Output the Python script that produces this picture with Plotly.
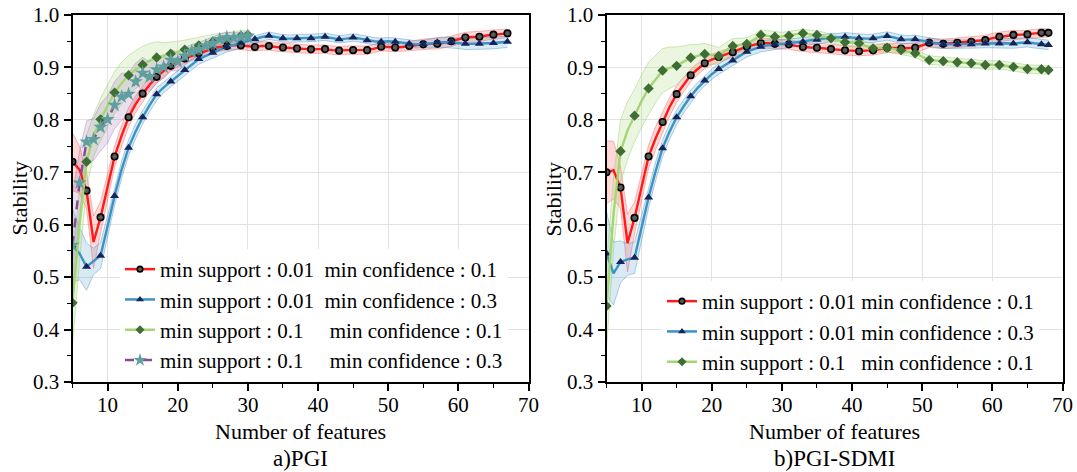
import plotly.graph_objects as go

FONT = "Liberation Serif, Times New Roman, DejaVu Serif, serif"

# ---------------- data ----------------
pgi_x_long = list(range(5, 68))
pgi_x_short = list(range(5, 31))
sdmi_x = list(range(5, 69))

pgi_red = [0.720, 0.705, 0.665, 0.567, 0.614, 0.672, 0.730, 0.770, 0.805, 0.830,
           0.850, 0.867, 0.882, 0.893, 0.903, 0.910, 0.917, 0.922, 0.927, 0.932,
           0.936, 0.939, 0.941, 0.942, 0.942, 0.940, 0.939, 0.941, 0.941, 0.939,
           0.938, 0.937, 0.936, 0.935, 0.9345, 0.935, 0.935, 0.933, 0.932, 0.933,
           0.933, 0.933, 0.933, 0.936, 0.9395, 0.939, 0.938, 0.939, 0.941, 0.943,
           0.944, 0.945, 0.945, 0.947, 0.950, 0.954, 0.957, 0.958, 0.9586, 0.961,
           0.9625, 0.964, 0.965]
pgi_red_err = [0.055, 0.045, 0.035, 0.050, 0.030, 0.025, 0.020, 0.020, 0.018, 0.016,
               0.015, 0.013, 0.012, 0.011, 0.010, 0.009, 0.009, 0.009, 0.009, 0.009,
               0.009, 0.008, 0.008, 0.008, 0.008, 0.008, 0.008, 0.008, 0.008, 0.008,
               0.008, 0.008, 0.008, 0.008, 0.008, 0.008, 0.008, 0.008, 0.008, 0.008,
               0.008, 0.008, 0.008, 0.008, 0.008, 0.008, 0.008, 0.008, 0.009, 0.009,
               0.010, 0.010, 0.010, 0.010, 0.010, 0.010, 0.010, 0.010, 0.010, 0.009,
               0.009, 0.008, 0.008]

pgi_blue = [0.560, 0.545, 0.520, 0.530, 0.541, 0.597, 0.655, 0.705, 0.747, 0.778,
            0.805, 0.828, 0.849, 0.862, 0.873, 0.884, 0.895, 0.906, 0.916, 0.922,
            0.928, 0.934, 0.9395, 0.943, 0.947, 0.950, 0.9536, 0.958, 0.9605, 0.958,
            0.9555, 0.955, 0.9555, 0.955, 0.9555, 0.957, 0.9586, 0.956, 0.9536, 0.955,
            0.957, 0.955, 0.952, 0.950, 0.949, 0.950, 0.949, 0.947, 0.945, 0.944,
            0.9446, 0.946, 0.948, 0.948, 0.948, 0.946, 0.945, 0.945, 0.945, 0.946,
            0.9466, 0.948, 0.949]
pgi_blue_err = [0.070, 0.050, 0.045, 0.025, 0.025, 0.020, 0.018, 0.016, 0.015, 0.014,
                0.013, 0.012, 0.012, 0.010, 0.010, 0.010, 0.010, 0.010, 0.010, 0.010,
                0.010, 0.010, 0.010, 0.010, 0.010, 0.007, 0.007, 0.007, 0.007, 0.007,
                0.007, 0.007, 0.007, 0.007, 0.007, 0.007, 0.007, 0.007, 0.007, 0.007,
                0.007, 0.007, 0.007, 0.007, 0.007, 0.007, 0.007, 0.007, 0.007, 0.007,
                0.007, 0.009, 0.009, 0.010, 0.010, 0.010, 0.011, 0.011, 0.011, 0.011,
                0.011, 0.011, 0.011]

pgi_green = [0.451, 0.600, 0.720, 0.770, 0.801, 0.828, 0.852, 0.870, 0.885, 0.896,
             0.905, 0.913, 0.919, 0.922, 0.926, 0.930, 0.934, 0.938, 0.942, 0.946,
             0.949, 0.952, 0.955, 0.957, 0.960, 0.962]
pgi_green_err = [0.080, 0.070, 0.050, 0.040, 0.040, 0.040, 0.040, 0.040, 0.038, 0.036,
                 0.035, 0.033, 0.030, 0.025, 0.022, 0.020, 0.018, 0.017, 0.016, 0.015,
                 0.014, 0.013, 0.012, 0.011, 0.010, 0.009]

pgi_purple = [0.561, 0.680, 0.758, 0.763, 0.786, 0.801, 0.828, 0.844, 0.849, 0.873,
              0.889, 0.882, 0.896, 0.901, 0.914, 0.911, 0.922, 0.930, 0.9345, 0.941,
              0.946, 0.9536, 0.957, 0.957, 0.958, 0.960]
pgi_purple_err = [0.100, 0.060, 0.040, 0.040, 0.045, 0.045, 0.045, 0.045, 0.040, 0.035,
                  0.030, 0.028, 0.025, 0.022, 0.020, 0.018, 0.016, 0.014, 0.013, 0.012,
                  0.011, 0.010, 0.010, 0.009, 0.009, 0.008]

sdmi_red = [0.700, 0.704, 0.671, 0.565, 0.613, 0.672, 0.730, 0.765, 0.796, 0.825,
            0.849, 0.868, 0.885, 0.897, 0.908, 0.915, 0.920, 0.925, 0.929, 0.934,
            0.9395, 0.943, 0.946, 0.946, 0.945, 0.944, 0.944, 0.941, 0.939, 0.938,
            0.9376, 0.936, 0.935, 0.934, 0.9326, 0.932, 0.931, 0.932, 0.9326, 0.935,
            0.9376, 0.937, 0.936, 0.937, 0.9376, 0.942, 0.947, 0.946, 0.945, 0.946,
            0.947, 0.948, 0.949, 0.950, 0.952, 0.956, 0.9586, 0.960, 0.962, 0.962,
            0.963, 0.965, 0.966, 0.966]
sdmi_red_err = [0.060, 0.055, 0.040, 0.055, 0.030, 0.025, 0.022, 0.022, 0.020, 0.018,
                0.016, 0.014, 0.012, 0.011, 0.010, 0.010, 0.010, 0.010, 0.010, 0.010,
                0.009, 0.009, 0.009, 0.009, 0.009, 0.009, 0.009, 0.009, 0.009, 0.009,
                0.009, 0.009, 0.009, 0.009, 0.009, 0.009, 0.009, 0.009, 0.009, 0.009,
                0.009, 0.009, 0.009, 0.009, 0.009, 0.009, 0.009, 0.009, 0.009, 0.009,
                0.009, 0.009, 0.009, 0.009, 0.009, 0.009, 0.009, 0.009, 0.009, 0.008,
                0.008, 0.008, 0.008, 0.008]

sdmi_blue = [0.545, 0.507, 0.529, 0.534, 0.537, 0.595, 0.652, 0.702, 0.746, 0.778,
             0.805, 0.826, 0.845, 0.861, 0.875, 0.887, 0.897, 0.905, 0.913, 0.922,
             0.930, 0.935, 0.9395, 0.942, 0.944, 0.945, 0.946, 0.948, 0.949, 0.951,
             0.953, 0.955, 0.957, 0.957, 0.9586, 0.957, 0.9555, 0.955, 0.9555, 0.958,
             0.960, 0.957, 0.9536, 0.953, 0.9536, 0.951, 0.948, 0.946, 0.944, 0.944,
             0.944, 0.944, 0.944, 0.945, 0.9456, 0.946, 0.9456, 0.946, 0.9456, 0.947,
             0.948, 0.946, 0.944, 0.943]
sdmi_blue_err = [0.080, 0.060, 0.040, 0.030, 0.030, 0.022, 0.020, 0.018, 0.016, 0.015,
                 0.014, 0.013, 0.012, 0.010, 0.010, 0.010, 0.010, 0.010, 0.010, 0.010,
                 0.010, 0.010, 0.010, 0.010, 0.010, 0.008, 0.008, 0.008, 0.008, 0.008,
                 0.008, 0.008, 0.008, 0.008, 0.008, 0.008, 0.008, 0.008, 0.008, 0.008,
                 0.008, 0.008, 0.008, 0.008, 0.008, 0.008, 0.008, 0.008, 0.008, 0.008,
                 0.008, 0.008, 0.008, 0.008, 0.008, 0.009, 0.009, 0.009, 0.009, 0.009,
                 0.009, 0.009, 0.009, 0.009]

sdmi_green = [0.445, 0.620, 0.740, 0.780, 0.808, 0.836, 0.860, 0.878, 0.894, 0.899,
              0.903, 0.911, 0.9185, 0.922, 0.9256, 0.924, 0.922, 0.932, 0.941, 0.943,
              0.9446, 0.953, 0.962, 0.960, 0.9586, 0.959, 0.9605, 0.963, 0.965, 0.963,
              0.962, 0.959, 0.9555, 0.952, 0.948, 0.947, 0.946, 0.941, 0.9364, 0.937,
              0.9376, 0.935, 0.933, 0.930, 0.927, 0.920, 0.914, 0.913, 0.912, 0.911,
              0.910, 0.909, 0.908, 0.906, 0.9046, 0.905, 0.9046, 0.903, 0.901, 0.899,
              0.897, 0.8965, 0.8964, 0.895]
sdmi_green_err = [0.080, 0.070, 0.060, 0.055, 0.050, 0.050, 0.050, 0.045, 0.042, 0.040,
                  0.036, 0.030, 0.025, 0.022, 0.020, 0.018, 0.016, 0.015, 0.014, 0.013,
                  0.012, 0.010, 0.010, 0.010, 0.010, 0.008, 0.008, 0.008, 0.008, 0.008,
                  0.008, 0.008, 0.008, 0.008, 0.008, 0.008, 0.008, 0.008, 0.008, 0.008,
                  0.008, 0.008, 0.008, 0.008, 0.008, 0.008, 0.008, 0.008, 0.008, 0.008,
                  0.008, 0.008, 0.008, 0.008, 0.008, 0.008, 0.008, 0.008, 0.008, 0.008,
                  0.008, 0.008, 0.008, 0.008]

legend_names_pgi = [
    "min support : 0.01\u00a0\u00a0min confidence : 0.1",
    "min support : 0.01\u00a0\u00a0min confidence : 0.3",
    "min support : 0.1\u00a0\u00a0\u00a0\u00a0\u00a0min confidence : 0.1",
    "min support : 0.1\u00a0\u00a0\u00a0\u00a0\u00a0min confidence : 0.3",
]
legend_names_sdmi = [
    "min support : 0.01 min confidence : 0.1",
    "min support : 0.01 min confidence : 0.3",
    "min support : 0.1\u00a0\u00a0\u00a0min confidence : 0.1",
]
panel_titles = ["a)PGI", "b)PGI-SDMI"]
x_title = "Number of features"
y_title = "Stability"

# ---------------- styles ----------------
STY = {
    "red": dict(line="#ff1a1a", dash="solid", fill="rgba(255,60,60,0.20)", edge="rgba(255,90,90,0.55)",
                sym="circle", mcol="#5a5a5a", msize=6.5, mline=dict(color="#000000", width=1.6)),
    "blue": dict(line="#3d92c4", dash="solid", fill="rgba(80,160,210,0.22)", edge="rgba(70,150,200,0.55)",
                 sym="triangle-up", mcol="#16245c", msize=8, mline=dict(width=0)),
    "green": dict(line="#a5d574", dash="solid", fill="rgba(165,213,116,0.22)", edge="rgba(150,205,100,0.55)",
                  sym="diamond", mcol="#3f6e35", msize=8, mline=dict(width=0)),
    "purple": dict(line="#8b4a8d", dash="dash", fill="rgba(150,100,175,0.20)", edge="rgba(150,100,175,0.45)",
                   sym="star", mcol="#5f9fa0", msize=11, mline=dict(width=0)),
}

fig = go.Figure()


def add_band(x, y, err, xa, ya, s):
    lo = [v - e for v, e in zip(y, err)]
    hi = [v + e for v, e in zip(y, err)]
    fig.add_trace(go.Scatter(x=x, y=lo, mode="lines", line=dict(color=s["edge"], width=0.8),
                             xaxis=xa, yaxis=ya, showlegend=False, hoverinfo="skip"))
    fig.add_trace(go.Scatter(x=x, y=hi, mode="lines", line=dict(color=s["edge"], width=0.8),
                             fill="tonexty", fillcolor=s["fill"],
                             xaxis=xa, yaxis=ya, showlegend=False, hoverinfo="skip"))


def add_line(x, y, xa, ya, s, every):
    fig.add_trace(go.Scatter(x=x, y=y, mode="lines", line=dict(color=s["line"], width=2.4, dash=s["dash"]),
                             xaxis=xa, yaxis=ya, showlegend=False))
    idx = list(range(0, len(x), every))
    if idx[-1] != len(x) - 1:
        idx.append(len(x) - 1)
    fig.add_trace(go.Scatter(x=[x[i] for i in idx], y=[y[i] for i in idx], mode="markers",
                             marker=dict(symbol=s["sym"], color=s["mcol"], size=s["msize"], line=s["mline"]),
                             xaxis=xa, yaxis=ya, showlegend=False))


def add_legend(name, s, legend):
    fig.add_trace(go.Scatter(x=[None], y=[None], mode="lines+markers", name=name,
                             line=dict(color=s["line"], width=2.5, dash=s["dash"]),
                             marker=dict(symbol=s["sym"], color=s["mcol"], size=s["msize"] - 1, line=s["mline"]),
                             legend=legend, showlegend=True))


left = [(pgi_x_long, pgi_red, pgi_red_err, "red", 2),
        (pgi_x_long, pgi_blue, pgi_blue_err, "blue", 2),
        (pgi_x_short, pgi_green, pgi_green_err, "green", 2),
        (pgi_x_short, pgi_purple, pgi_purple_err, "purple", 1)]
right = [(sdmi_x, sdmi_red, sdmi_red_err, "red", 2),
         (sdmi_x, sdmi_blue, sdmi_blue_err, "blue", 2),
         (sdmi_x, sdmi_green, sdmi_green_err, "green", 2)]

for series, xa, ya in [(left, "x", "y"), (right, "x2", "y2")]:
    for x, y, e, key, ev in series:
        add_band(x, y, e, xa, ya, STY[key])
    for x, y, e, key, ev in series:
        add_line(x, y, xa, ya, STY[key], ev)

for name, (_, _, _, key, _) in zip(legend_names_pgi, left):
    add_legend(name, STY[key], "legend")
for name, (_, _, _, key, _) in zip(legend_names_sdmi, right):
    add_legend(name, STY[key], "legend2")

W, H = 1077, 472
XL = [72.5 / W, 528.5 / W]
XR = [606.5 / W, 1062.5 / W]
YD = [1 - 382 / H, 1 - 15 / H]

tickfont = dict(family=FONT, size=21, color="black")


def xaxis(dom, anchor):
    return dict(domain=dom, anchor=anchor, range=[5, 70], tick0=0, dtick=10,
                showline=True, linecolor="black", linewidth=2, mirror=True,
                ticks="outside", ticklen=7, tickwidth=1.5, tickcolor="black",
                showgrid=True, gridcolor="#e2e2e2", gridwidth=1, zeroline=False,
                tickfont=tickfont, automargin=False, ticklabelstandoff=-4,
                minor=dict(dtick=5, ticks="outside", ticklen=4, tickcolor="black", tickwidth=1.2, showgrid=False))


def yaxis(anchor):
    return dict(domain=YD, anchor=anchor, range=[0.3, 1.0], tick0=0.3, dtick=0.1, tickformat=".1f",
                showline=True, linecolor="black", linewidth=2, mirror=True,
                ticks="outside", ticklen=7, tickwidth=1.5, tickcolor="black",
                showgrid=True, gridcolor="#e2e2e2", gridwidth=1, zeroline=False,
                tickfont=tickfont, automargin=False,
                minor=dict(dtick=0.05, ticks="outside", ticklen=4, tickcolor="black", tickwidth=1.2, showgrid=False))


legfont = dict(family=FONT, size=21, color="black")
fig.update_layout(
    width=W, height=H,
    margin=dict(l=0, r=0, t=0, b=0),
    font=dict(family=FONT, color="black"),
    paper_bgcolor="white", plot_bgcolor="white",
    xaxis=xaxis(XL, "y"), yaxis=yaxis("x"),
    xaxis2=xaxis(XR, "y2"), yaxis2=yaxis("x2"),
    legend=dict(x=120 / W, y=1 - 249 / H, xanchor="left", yanchor="top", bgcolor="white",
                font=legfont, tracegroupgap=0, itemwidth=30, borderwidth=0, traceorder="normal"),
    legend2=dict(x=662 / W, y=1 - 281 / H, xanchor="left", yanchor="top", bgcolor="white",
                 font=legfont, tracegroupgap=0, itemwidth=30, borderwidth=0, traceorder="normal"),
    showlegend=True,
)

ann = []
for cx, t in zip([(XL[0] + XL[1]) / 2, (XR[0] + XR[1]) / 2], panel_titles):
    ann.append(dict(x=cx, y=1 - 431 / H, xref="paper", yref="paper", text=x_title, showarrow=False,
                    font=dict(family=FONT, size=22, color="black"), xanchor="center", yanchor="middle"))
    ann.append(dict(x=cx, y=1 - 458 / H, xref="paper", yref="paper", text=t, showarrow=False,
                    font=dict(family=FONT, size=23, color="black"), xanchor="center", yanchor="middle"))
for lx in [19 / W, 553 / W]:
    ann.append(dict(x=lx, y=(YD[0] + YD[1]) / 2, xref="paper", yref="paper", text=y_title, showarrow=False,
                    textangle=-90, font=dict(family=FONT, size=22, color="black"),
                    xanchor="center", yanchor="middle"))
fig.update_layout(annotations=ann)

fig.write_html("out.html")
